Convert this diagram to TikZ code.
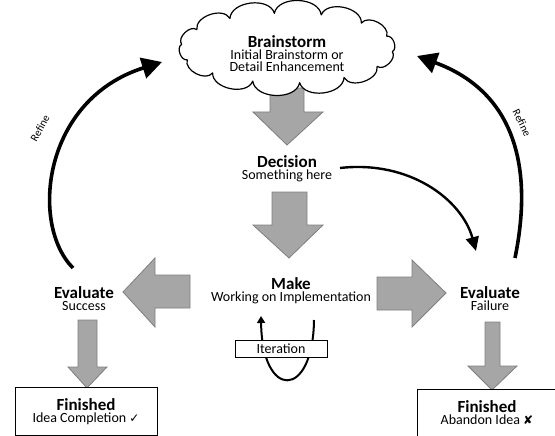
\documentclass[tikz,border=0pt]{standalone}
\usepackage{fontspec}
\setmainfont{Carlito}
\newfontfamily\symfont{DejaVu Sans}
\usetikzlibrary{arrows.meta}
\definecolor{arrowgrey}{HTML}{A6A6A6}
\definecolor{arrowedge}{HTML}{7F7F7F}
\newcommand\ttlfont{\fontsize{17}{18}\selectfont\bfseries}
\newcommand\subfont{\fontsize{14}{18}\selectfont}
\tikzset{
  garrow/.style={fill=arrowgrey, draw=arrowedge, line width=0.8pt, line join=miter},
  label2/.style={align=center, inner sep=1pt},
  cloudline/.style={draw, fill=white, line width=1.2pt, line join=round},
  finbox/.style={draw, line width=0.9pt, fill=white, align=center, inner sep=2pt},
  bigcurve/.style={line width=3.6pt, -{Triangle[length=20pt,width=21pt]}},
  midcurve/.style={line width=2.4pt, -{Triangle[length=14pt,width=13pt]}},
  smallcurve/.style={line width=2pt, -{Triangle[length=7pt,width=8pt]}},
  refinelbl/.style={font=\fontsize{11}{12}\selectfont, inner sep=0pt}
}
\begin{document}
\begin{tikzpicture}[x=1pt,y=-1pt]
\useasboundingbox (0,0) rectangle (555,436);
% grey block arrows
\draw[garrow] (270,88) -- (304,88) -- (304,112) -- (323,112) -- (287,145) -- (253,112) -- (270,112) -- cycle;
\draw[garrow] (272,192) -- (307,192) -- (307,225) -- (323,225) -- (289,258) -- (253,225) -- (272,225) -- cycle;
\draw[garrow] (190,275) -- (155,275) -- (155,258) -- (123,292) -- (155,327) -- (155,308) -- (190,308) -- cycle;
\draw[garrow] (377,277) -- (412,277) -- (412,260) -- (446,293) -- (412,327) -- (412,310) -- (377,310) -- cycle;
\draw[garrow] (78,320) -- (97,320) -- (97,367) -- (107,367) -- (87,388) -- (68,367) -- (78,367) -- cycle;
\draw[garrow] (485,322) -- (500,322) -- (500,366) -- (517,366) -- (492,390) -- (468,366) -- (485,366) -- cycle;
% cloud outline
\foreach \i in {0,...,13}
  \coordinate (cp\i) at ({287+106*cos(\i*360/14+6)}, {48+35*sin(\i*360/14+6)});
\draw[cloudline] (cp0) \foreach \i in {1,...,13} { to[bend left=80] (cp\i) } to[bend left=80] (cp0) -- cycle;
\node[label2] (brain) at (287,54)
  {\ttlfont Brainstorm\\\subfont Initial Brainstorm or\\\subfont Detail Enhancement};
% text nodes
\node[label2] (decision) at (287,169) {\ttlfont Decision\\\subfont Something here};
\node[label2] (make) at (291,291) {\ttlfont Make\\\subfont Working on Implementation};
\node[label2] (evalL) at (84,299) {\ttlfont Evaluate\\\subfont Success};
\node[label2] (evalR) at (490,299) {\ttlfont Evaluate\\\subfont Failure};
% iteration loop
\coordinate (itR) at (314,320);
\coordinate (itL) at (261,316);
\draw[smallcurve] (itR) .. controls (313,400) and (262,400) .. (itL);
\node[finbox, minimum width=92pt, minimum height=17pt, inner sep=0pt, font=\subfont] (iter) at (281,348.5) {Iteration};
% finished boxes
\node[finbox, minimum width=142pt, minimum height=48pt] (finL) at (86,411.5)
  {\ttlfont Finished\\\subfont Idea Completion {\symfont\fontsize{12}{18}\selectfont ✓}};
\node[finbox, minimum width=140pt, minimum height=47pt] (finR) at (487,413)
  {\ttlfont Finished\\\subfont Abandon Idea {\symfont\fontsize{12}{18}\selectfont ✘}};
% refine curves
\coordinate (lstart) at (73,268);
\coordinate (ltip) at (162,62);
\coordinate (rstart) at (515,258);
\coordinate (rtip) at (417,56);
\draw[bigcurve] (lstart) .. controls (30,225) and (42,100) .. (ltip);
\draw[bigcurve] (rstart) .. controls (535,160) and (510,90) .. (rtip);
\node[refinelbl, rotate=61] (refL) at (40,128) {Refine};
\node[refinelbl, rotate=-64] (refR) at (522,123) {Refine};
% decision to evaluate failure
\coordinate (dstart) at (340,168);
\coordinate (dend) at (476,251);
\draw[midcurve] (dstart) .. controls (410,160) and (462,200) .. (dend);
\end{tikzpicture}
\end{document}
